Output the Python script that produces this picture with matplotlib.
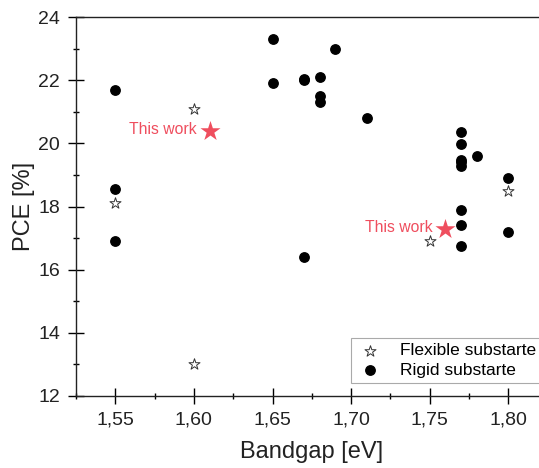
import matplotlib
matplotlib.use("Agg")
import matplotlib.pyplot as plt
from matplotlib.ticker import MultipleLocator, FuncFormatter

plt.rcParams['font.family'] = ['Liberation Sans', 'DejaVu Sans']

# Flexible substrate devices
flex_bandgap = [1.55, 1.60, 1.60, 1.75, 1.80]
flex_pce = [18.1, 21.1, 13.0, 16.9, 18.5]

# Rigid substrate devices
rigid_bandgap = [1.55, 1.55, 1.55, 1.65, 1.65, 1.67, 1.67, 1.67, 1.68, 1.68, 1.68,
                 1.69, 1.71, 1.77, 1.77, 1.77, 1.77, 1.77, 1.77, 1.77, 1.77,
                 1.78, 1.80, 1.80]
rigid_pce = [21.7, 18.55, 16.9, 23.3, 21.9, 22.0, 22.05, 16.4, 22.1, 21.5, 21.3,
             23.0, 20.8, 20.35, 19.97, 19.47, 19.4, 19.27, 17.9, 17.4, 16.75,
             19.6, 18.9, 17.2]

# This work
this_bandgap = [1.61, 1.76]
this_pce = [20.4, 17.3]
this_label = "This work"

red = "#EF4E5E"

fig = plt.figure(figsize=(5.39, 4.68), dpi=100)
W, H = 539, 468
left_px, top_px, bottom_px = 76, 17, 396
xmin, xmax = 1.525, 1.825
px_per_unit = 78.6 / 0.05
width_px = (xmax - xmin) * px_per_unit
ax = fig.add_axes([left_px / W, (H - bottom_px) / H, width_px / W, (bottom_px - top_px) / H])

ax.scatter(flex_bandgap, flex_pce, marker='*', s=70, facecolors='white',
           edgecolors='#333333', linewidths=0.7, zorder=3, label='Flexible substarte')
ax.scatter(rigid_bandgap, rigid_pce, marker='o', s=46, color='black',
           zorder=3, label='Rigid substarte')
ax.scatter(this_bandgap, this_pce, marker='*', s=230, color=red,
           linewidths=0, zorder=4)
for xb, yp in zip(this_bandgap, this_pce):
    ax.annotate(this_label, (xb, yp), xytext=(-9, 1), textcoords='offset points',
                ha='right', va='center', color=red, fontsize=11.3)

ax.set_xlim(xmin, xmax)
ax.set_ylim(12, 24)
ax.xaxis.set_major_locator(MultipleLocator(0.05))
ax.xaxis.set_minor_locator(MultipleLocator(0.025))
ax.yaxis.set_major_locator(MultipleLocator(2))
ax.yaxis.set_minor_locator(MultipleLocator(1))
ax.xaxis.set_major_formatter(FuncFormatter(lambda v, p: f"{v:.2f}".replace('.', ',')))
ax.tick_params(which='major', direction='inout', length=11, width=1.0,
               labelsize=14, colors='black', labelcolor='#222222', pad=6)
ax.tick_params(which='minor', direction='inout', length=5, width=1.0)
ax.tick_params(axis='x', which='both', top=False)
ax.tick_params(axis='y', which='both', right=False)

for s in ax.spines.values():
    s.set_linewidth(1.0)
    s.set_color('#222222')

ax.set_xlabel('Bandgap [eV]', fontsize=17, color='#222222', labelpad=9)
ax.set_ylabel('PCE [%]', fontsize=17, color='#222222', labelpad=2)

leg = ax.legend(loc='lower left', bbox_to_anchor=((351 - left_px) / width_px, (396 - 383) / 379),
                fontsize=12.5, frameon=True, fancybox=False, edgecolor='#aaaaaa',
                framealpha=1, borderpad=0.3, handletextpad=0.9, labelspacing=0.25,
                handlelength=1.6, borderaxespad=0)
leg.get_frame().set_linewidth(0.8)

fig.savefig('out.png', dpi=100)
